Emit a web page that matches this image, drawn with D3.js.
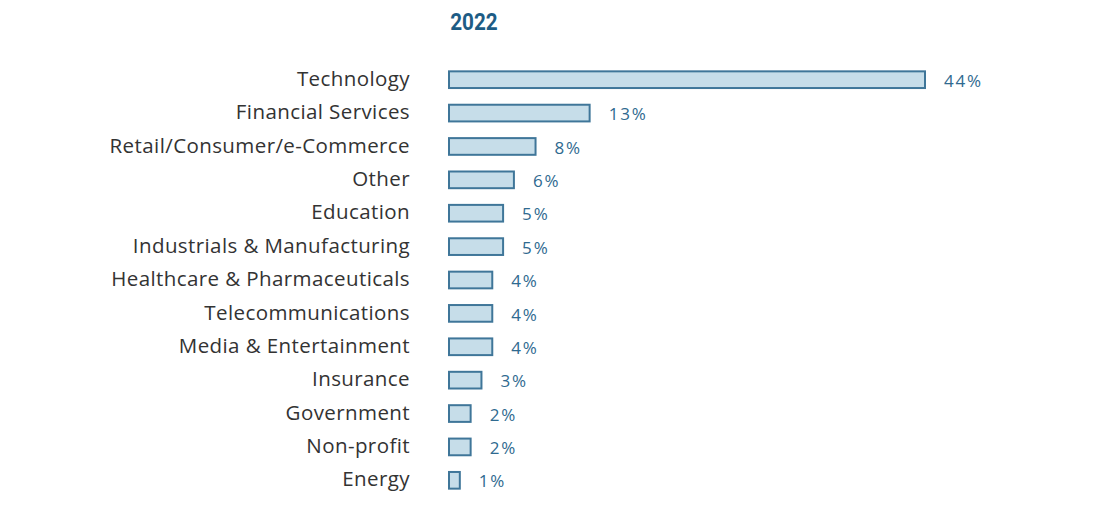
<!DOCTYPE html>
<html><head><meta charset="utf-8">
<script src="https://cdn.jsdelivr.net/npm/d3@7"></script>
<style>body{margin:0;background:#fff;}</style>
</head><body>
<svg id="c" width="1100" height="507"></svg>
<script>
const categories = ["Technology","Financial Services","Retail/Consumer/e-Commerce","Other","Education","Industrials & Manufacturing","Healthcare & Pharmaceuticals","Telecommunications","Media & Entertainment","Insurance","Government","Non-profit","Energy"];
const values = [44,13,8,6,5,5,4,4,4,3,2,2,1];
const title = "2022";

const svg = d3.select("#c");
const x = d3.scaleLinear().domain([0,44]).range([449,925]);
const y = d3.scaleBand().domain(categories).range([63,497]).paddingInner(0.5).paddingOuter(0.25);

svg.append("text").attr("x",474).attr("y",30).attr("text-anchor","middle")
  .attr("font-family","Roboto").attr("font-weight","bold").attr("font-size",23)
  .attr("fill","#1d5c85").attr("transform","translate(474,0) scale(0.9,1) translate(-474,0)").text(title);

const g = svg.append("g");
g.selectAll("rect").data(values).join("rect")
  .attr("x",x(0)).attr("y",(d,i)=>y(categories[i]))
  .attr("width",d=>x(d)-x(0)).attr("height",y.bandwidth())
  .attr("fill","#c6dde9").attr("stroke","#3f7699").attr("stroke-width",2);

const cats = g.selectAll("text.cat").data(categories).join("text").attr("class","cat")
  .attr("x",410).attr("y",d=>y(d)+y.bandwidth()/2).attr("dy","0.3em")
  .attr("text-anchor","end").attr("font-family","Open Sans").attr("font-size",18)
  .attr("letter-spacing",0.4).attr("fill","#333").text(d=>d);
const w = cats.filter(d=>d==="Retail/Consumer/e-Commerce").node().getComputedTextLength();
cats.attr("font-size", 18 * 302 / w);

const vals = g.selectAll("text.val").data(values).join("text").attr("class","val")
  .attr("x",d=>x(d)+19).attr("y",(d,i)=>y(categories[i])+y.bandwidth()/2).attr("dy","0.42em")
  .attr("font-family","Open Sans").attr("font-size",17).attr("font-weight",500)
  .attr("fill","#2f6a90").text(d=>d+"%");
const vw = vals.node().getComputedTextLength();
vals.attr("letter-spacing", (39 - vw)/3);
</script>
</body></html>
